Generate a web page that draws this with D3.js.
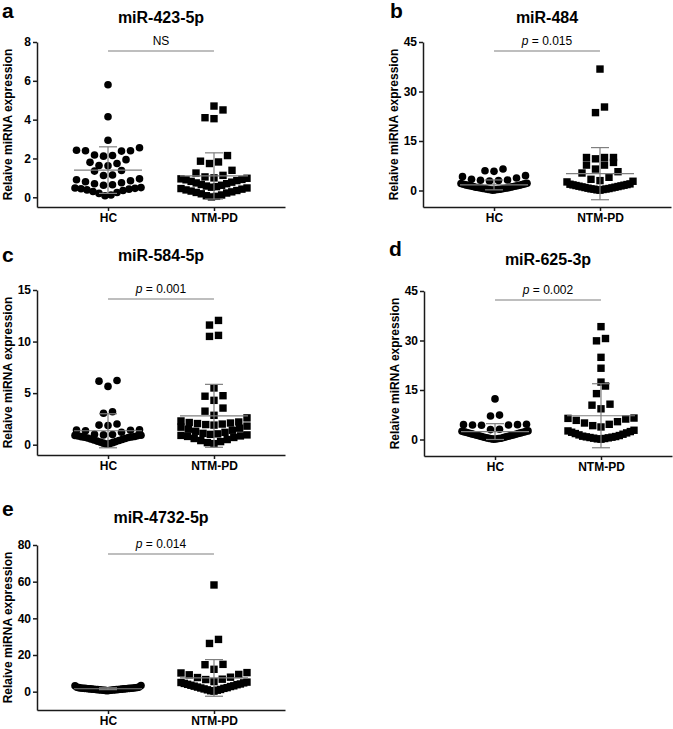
<!DOCTYPE html>
<html>
<head>
<meta charset="UTF-8">
<title>miRNA expression</title>
<script src="https://d3js.org/d3.v7.min.js"></script>
<style>
  body { margin: 0; background: #fff; }
  svg { font-family: Arial, "Liberation Sans", sans-serif; }
</style>
</head>
<body>
<svg id="chart" width="673" height="729"></svg>
<script>
// ---- data ----
const groups = ["HC", "NTM-PD"];
const letters = ["a", "b", "c", "d", "e"];
const titles = ["miR-423-5p", "miR-484", "miR-584-5p", "miR-625-3p", "miR-4732-5p"];
const pLabels = ["NS", "0.015", "0.001", "0.002", "0.014"];
const yTicks = [[0, 2, 4, 6, 8], [0, 15, 30, 45], [0, 5, 10, 15], [0, 15, 30, 45], [0, 20, 40, 60, 80]];
const yFloor = [-0.5, -5, -1, -5, -10];

const hcMean = [1.4, 1.7, 1.35, 2.4, 1.6];
const hcSd = [1.2, 1.5, 1.65, 2.4, 0.5];
const ntmMean = [1.1, 5.1, 2.8, 7.2, 7.5];
const ntmSd = [1.19, 7.9, 3.05, 9.7, 10];

const hc423 = [5.8, 4.15, 2.94, 2.55, 2.42, 2.4, 2.4, 2.38, 2.18, 2.15, 2.12, 1.94, 1.8, 1.74, 1.64, 1.62,
  1.38, 1.35, 1.15, 1.12, 0.95, 0.9, 0.85, 0.8, 0.75, 0.7, 0.65, 0.62, 0.5, 0.48, 0.46, 0.44, 0.42,
  0.38, 0.35, 0.3, 0.25, 0.2, 0.12, 0.08];
const ntm423 = [4.7, 4.5, 4.1, 4.05, 2.15, 1.86, 1.82, 1.74, 1.39, 1.25, 1.13, 1.05, 1.0, 0.98, 0.95,
  0.92, 0.9, 0.86, 0.82, 0.78, 0.74, 0.7, 0.66, 0.62, 0.58, 0.55, 0.52, 0.48, 0.45, 0.42, 0.38, 0.35,
  0.32, 0.28, 0.25, 0.22, 0.18, 0.12, 0.08, 0.05, 0.02];
const hc484 = [6.5, 6.0, 5.8, 4.5, 4.2, 3.8, 3.4, 3.2, 3.1, 3.0, 2.9, 2.2, 2.1, 2.0, 1.9, 1.8, 1.7, 1.6,
  1.5, 1.45, 1.4, 1.3, 1.2, 1.1, 1.0, 0.95, 0.9, 0.8, 0.75, 0.7, 0.6, 0.55, 0.5, 0.4, 0.35, 0.3, 0.25,
  0.2, 0.1];
const ntm484 = [36.8, 25.3, 23.6, 10.0, 10.0, 10.0, 9.6, 8.5, 7.7, 7.7, 6.5, 5.7, 5.3, 4.0, 3.4, 3.0,
  2.8, 2.6, 2.0, 1.9, 1.8, 1.7, 1.6, 1.5, 1.4, 1.3, 1.2, 1.1, 1.0, 0.9, 0.8, 0.7, 0.6, 0.5, 0.45, 0.4,
  0.3, 0.2, 0.1];
const hc584 = [6.23, 6.16, 5.65, 3.2, 3.05, 2.0, 1.9, 1.85, 1.45, 1.42, 1.4, 1.35, 1.2, 1.0, 0.98, 0.95,
  0.92, 0.9, 0.88, 0.85, 0.8, 0.78, 0.75, 0.72, 0.7, 0.65, 0.6, 0.55, 0.5, 0.45, 0.4, 0.35, 0.3, 0.25,
  0.2, 0.15, 0.1, 0.05];
const ntm584 = [12.05, 11.6, 10.6, 10.5, 5.5, 4.75, 4.7, 4.3, 3.55, 3.25, 2.85, 2.6, 2.3, 2.2, 2.15, 2.1,
  2.05, 2.0, 1.95, 1.9, 1.8, 1.7, 1.6, 1.5, 1.4, 1.3, 1.2, 1.1, 1.05, 1.0, 0.95, 0.9, 0.85, 0.8, 0.7,
  0.6, 0.5, 0.4, 0.3, 0.2, 0.1];
const hc625 = [12.3, 7.4, 7.1, 4.6, 4.5, 4.5, 4.4, 4.4, 4.3, 3.1, 3.0, 2.6, 2.5, 2.4, 2.3, 2.2, 2.1, 2.0,
  1.9, 1.8, 1.7, 1.6, 1.5, 1.4, 1.3, 1.2, 1.1, 1.0, 0.9, 0.8, 0.7, 0.6, 0.5, 0.4, 0.35, 0.3, 0.2, 0.15, 0.1];
const ntm625 = [34.2, 30.6, 29.9, 24.9, 21.6, 17.4, 16.2, 13.9, 10.7, 10.4, 9.3, 6.5, 6.4, 6.2, 5.8, 5.4,
  5.0, 4.6, 4.2, 3.8, 2.8, 2.6, 2.4, 2.2, 2.0, 1.8, 1.6, 1.4, 1.2, 1.0, 0.9, 0.8, 0.7, 0.6, 0.5, 0.4,
  0.3, 0.2, 0.1];
const hc4732 = [3.3, 3.2, 2.5, 2.4, 2.3, 2.2, 2.1, 2.0, 2.0, 1.9, 1.9, 1.8, 1.8, 1.7, 1.7, 1.6, 1.6, 1.5,
  1.5, 1.4, 1.4, 1.3, 1.3, 1.2, 1.2, 1.1, 1.1, 1.0, 1.0, 0.9, 0.9, 0.8, 0.8, 0.7, 0.6, 0.5];
const ntm4732 = [58.2, 28.5, 26.3, 14.9, 14.7, 12.2, 10.4, 10.2, 9.4, 9.2, 7.9, 7.7, 6.8, 6.6, 5.5, 5.2,
  5.0, 4.8, 4.5, 4.2, 4.0, 3.8, 3.5, 3.2, 3.0, 2.8, 2.5, 2.2, 2.0, 1.8, 1.5, 1.2, 1.0, 0.8, 0.5, 0.3];

const hcValues = [hc423, hc484, hc584, hc625, hc4732];
const ntmValues = [ntm423, ntm484, ntm584, ntm625, ntm4732];

// ---- layout (pixels) ----
const layout = [
  { x0: 37,  top: 42,  titleY: 23,  letterX: 2,   letterY: 18 },
  { x0: 423, top: 42,  titleY: 23,  letterX: 390, letterY: 18 },
  { x0: 37,  top: 290, titleY: 261, letterX: 2,   letterY: 262 },
  { x0: 424, top: 291, titleY: 265, letterX: 389, letterY: 256 },
  { x0: 37,  top: 545, titleY: 523, letterX: 2,   letterY: 516 }
];
const plotH = 165, plotW = 248;
const grey = "#7f7f7f";

const svg = d3.select("#chart");

// GraphPad-like scatter: bin by height, spread each bin sideways, lowest in the middle
function swarm(values, y, cx) {
  const binH = 9, step = 9, maxHalf = 33;
  const sorted = values.slice().sort((a, b) => a - b);
  const bins = [];
  let cur = null;
  sorted.forEach(v => {
    const py = y(v);
    if (!cur || cur.start - py > binH) { cur = { start: py, items: [] }; bins.push(cur); }
    cur.items.push(v);
  });
  const pts = [];
  bins.forEach(b => {
    const n = b.items.length;
    const s = n > 1 ? Math.min(step, 2 * maxHalf / (n - 1)) : 0;
    const slots = d3.range(n).map(i => (i - (n - 1) / 2) * s);
    slots.sort((p, q) => Math.abs(p) - Math.abs(q) || p - q);
    b.items.forEach((v, i) => pts.push({ v, x: cx + slots[i] }));
  });
  return pts;
}

function drawMeanSd(g, cx, y, mean, sd) {
  g.append("line").attr("x1", cx - 34).attr("x2", cx + 34)
    .attr("y1", y(mean)).attr("y2", y(mean))
    .attr("stroke", grey).attr("stroke-width", 1.2);
  g.append("line").attr("x1", cx).attr("x2", cx)
    .attr("y1", y(mean + sd)).attr("y2", y(mean - sd))
    .attr("stroke", grey).attr("stroke-width", 1.2);
  [mean + sd, mean - sd].forEach(v => {
    g.append("line").attr("x1", cx - 9).attr("x2", cx + 9)
      .attr("y1", y(v)).attr("y2", y(v))
      .attr("stroke", grey).attr("stroke-width", 1.2);
  });
}

letters.forEach((letter, i) => {
  const L = layout[i];
  const ticks = yTicks[i];
  const yMax = ticks[ticks.length - 1];
  const bottom = L.top + plotH;

  const y = d3.scaleLinear().domain([yFloor[i], yMax]).range([bottom, L.top]);
  const x = d3.scalePoint().domain(groups).range([L.x0, L.x0 + plotW]).padding(0.67);

  const g = svg.append("g");

  // panel letter and title
  g.append("text").attr("x", L.letterX).attr("y", L.letterY)
    .attr("font-size", 21).attr("font-weight", "bold").text(letter);
  g.append("text").attr("x", (x("HC") + x("NTM-PD")) / 2).attr("y", L.titleY)
    .attr("text-anchor", "middle").attr("font-size", 16).attr("font-weight", "bold")
    .text(titles[i]);

  // axes
  const yAxis = g.append("g").attr("transform", `translate(${L.x0},0)`)
    .call(d3.axisLeft(y).tickValues(ticks).tickSize(4).tickSizeOuter(0).tickPadding(2));
  const xAxis = g.append("g").attr("transform", `translate(0,${bottom})`)
    .call(d3.axisBottom(x).tickSize(4).tickSizeOuter(0).tickPadding(2));
  [yAxis, xAxis].forEach(a => {
    a.selectAll("path, line").attr("stroke", "#1a1a1a").attr("stroke-width", 1.5);
    a.selectAll("text").attr("font-size", 12).attr("font-weight", "bold")
      .attr("font-family", "Arial, 'Liberation Sans', sans-serif").attr("fill", "#000");
  });
  xAxis.selectAll("text").attr("dy", "0.72em");

  g.append("text")
    .attr("transform", `translate(${L.x0 - 25},${(L.top + bottom) / 2}) rotate(-90)`)
    .attr("text-anchor", "middle").attr("font-size", 12).attr("font-weight", "bold")
    .text("Relaive miRNA expression");

  // significance bar
  const sigY = L.top + 9;
  g.append("line").attr("x1", x("HC")).attr("x2", x("NTM-PD"))
    .attr("y1", sigY).attr("y2", sigY).attr("stroke", grey).attr("stroke-width", 1.2);
  const st = g.append("text").attr("x", (x("HC") + x("NTM-PD")) / 2).attr("y", sigY - 6)
    .attr("text-anchor", "middle").attr("font-size", 12);
  if (pLabels[i] === "NS") {
    st.text("NS");
  } else {
    st.append("tspan").attr("font-style", "italic").text("p");
    st.append("tspan").text(" = " + pLabels[i]);
  }

  // points
  const hcPts = swarm(hcValues[i], y, x("HC"));
  g.append("g").selectAll("circle").data(hcPts).join("circle")
    .attr("cx", d => d.x).attr("cy", d => y(d.v)).attr("r", 3.8).attr("fill", "#000");

  const ntmPts = swarm(ntmValues[i], y, x("NTM-PD"));
  const sq = 7.4;
  g.append("g").selectAll("rect").data(ntmPts).join("rect")
    .attr("x", d => d.x - sq / 2).attr("y", d => y(d.v) - sq / 2)
    .attr("width", sq).attr("height", sq).attr("fill", "#000");

  drawMeanSd(g, x("HC"), y, hcMean[i], hcSd[i]);
  drawMeanSd(g, x("NTM-PD"), y, ntmMean[i], ntmSd[i]);
});
</script>
</body>
</html>
